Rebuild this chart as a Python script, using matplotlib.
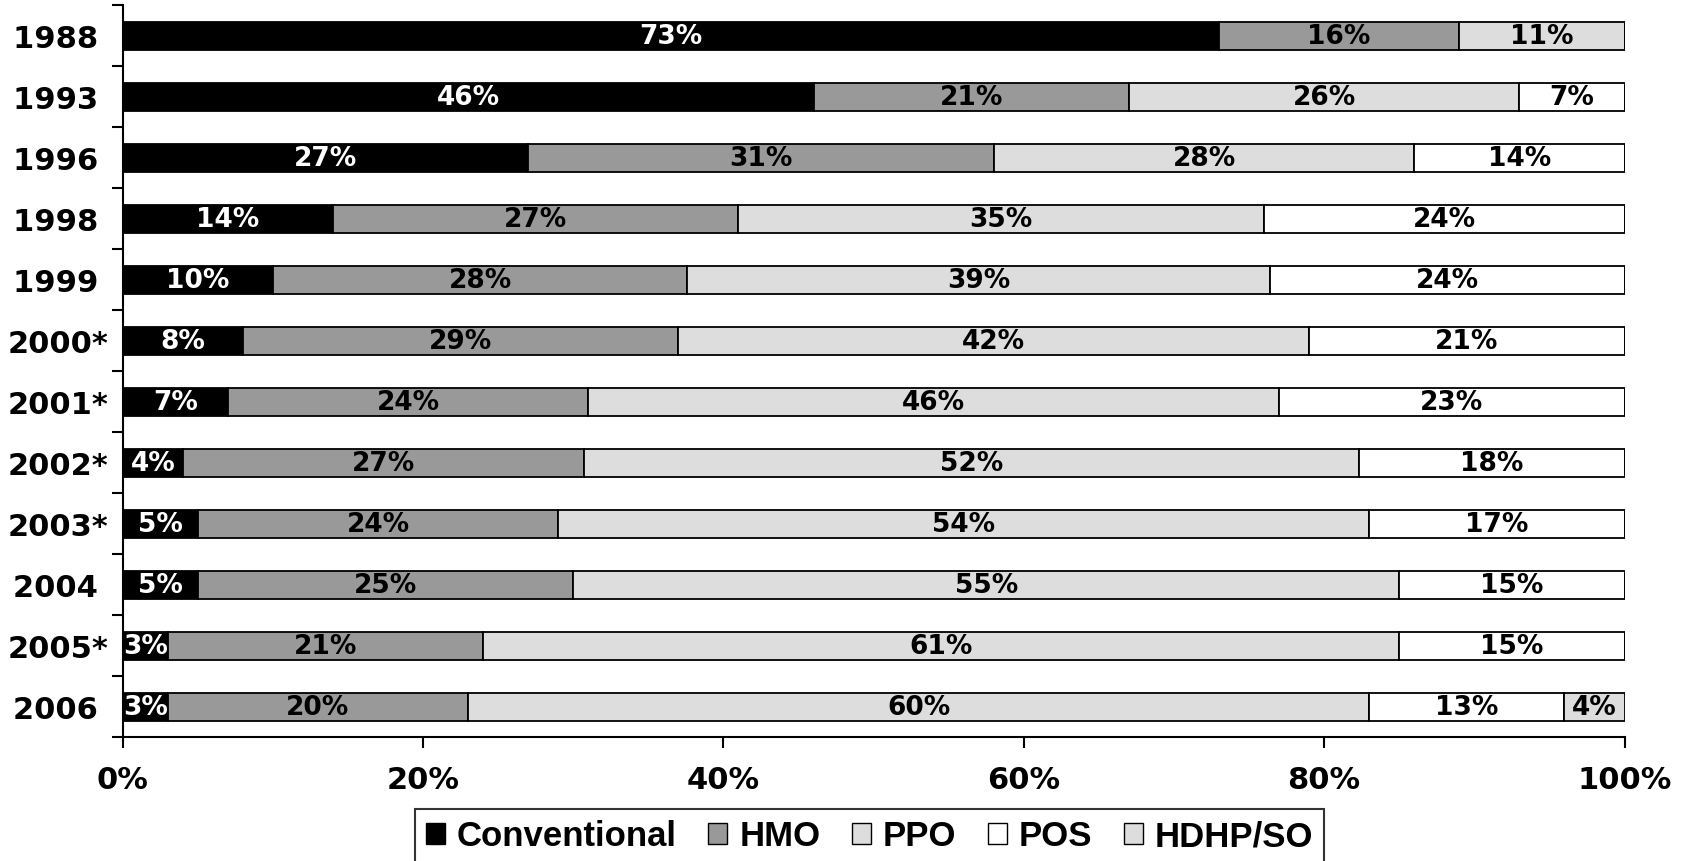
import matplotlib.pyplot as plt
import numpy as np

years = ["1988 ", "1993 ", "1996 ", "1998 ", "1999 ", "2000*", "2001*",
         "2002*", "2003*", "2004 ", "2005*", "2006 "]
conventional = [73, 46, 27, 14, 10, 8, 7, 4, 5, 5, 3, 3]
hmo = [16, 21, 31, 27, 27.6, 29, 24, 26.7, 24, 25, 21, 20]
ppo = [11, 26, 28, 35, 38.8, 42, 46, 51.6, 54, 55, 61, 60]
pos = [0, 7, 14, 24, 23.6, 21, 23, 17.7, 17, 15, 15, 13]
hdhp = [0, 0, 0, 0, 0, 0, 0, 0, 0, 0, 0, 4]

series = [("Conventional", conventional, "#000000", "white"),
          ("HMO", hmo, "#999999", "black"),
          ("PPO", ppo, "#dddddd", "black"),
          ("POS", pos, "#ffffff", "black"),
          ("HDHP/SO", hdhp, "#dddddd", "black")]

fig = plt.figure(figsize=(16.88, 8.62), dpi=100)
ax = fig.add_axes([0.0727, 0.1433, 0.8897, 0.8497])

y = np.arange(len(years))
left = np.zeros(len(years))
for name, vals, col, tcol in series:
    vals = np.array(vals, dtype=float)
    ax.barh(y, vals, left=left, height=0.46, color=col, edgecolor="black",
            linewidth=1.3, label=name)
    for i, v in enumerate(vals):
        if v > 0:
            ax.text(left[i] + v / 2, y[i], f"{v:.0f}%", ha="center", va="center",
                    color=tcol, fontsize=19, fontweight="bold",
                    family="DejaVu Sans")
    left += vals

ax.set_xlim(0, 100)
ax.set_ylim(len(years) - 0.5, -0.5)
ax.set_xticks(np.arange(0, 101, 20))
ax.set_xticklabels([f"{t}%" for t in range(0, 101, 20)], fontsize=22,
                   fontweight="bold")
ax.set_yticks(y)
ax.set_yticklabels(years, fontsize=22, fontweight="bold")
ax.set_yticks(np.arange(-0.5, len(years), 1.0), minor=True)
ax.tick_params(axis="y", which="major", length=0, pad=10)
ax.tick_params(axis="y", which="minor", length=8, width=1.5)
ax.tick_params(axis="x", length=8, width=1.5, pad=12)
for s in ["top", "right"]:
    ax.spines[s].set_visible(False)
for s in ["left", "bottom"]:
    ax.spines[s].set_linewidth(1.5)

leg = fig.legend(loc="upper center", bbox_to_anchor=(0.5151, 0.0603), ncol=5,
                 frameon=True, fancybox=False, edgecolor="black",
                 prop={"family": "Liberation Sans", "weight": "bold", "size": 25},
                 handlelength=0.55, handleheight=0.55, handletextpad=0.35,
                 columnspacing=0.9, borderpad=0.3, borderaxespad=0)
leg.get_frame().set_linewidth(1.5)
for h in leg.legend_handles:
    h.set_linewidth(1.0)

fig.savefig("out.png", dpi=100)
